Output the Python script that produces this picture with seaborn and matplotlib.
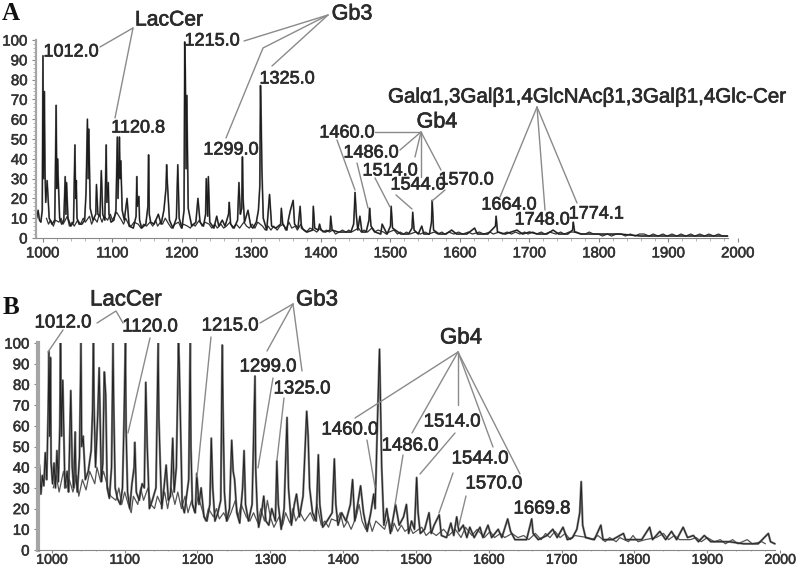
import matplotlib
matplotlib.use("Agg")
import matplotlib.pyplot as plt
import matplotlib.patheffects as pe
import seaborn as sns
from matplotlib.lines import Line2D
from matplotlib.ticker import MultipleLocator

# espectro A (pico e vale alternados)
a_mz = [991, 993, 995, 997, 999, 1000, 1001, 1002, 1003, 1004, 1006, 1009, 1013, 1017, 1019, 1020, 1021, 1024, 1027,
        1030, 1032, 1033, 1034, 1036, 1040, 1044, 1046, 1047, 1048, 1049, 1052, 1056, 1060, 1062, 1064, 1065, 1066, 1068, 1072,
        1076, 1077, 1079, 1082, 1084, 1086, 1089, 1091, 1092, 1094, 1095, 1098, 1102, 1105, 1107, 1108, 1110, 1111, 1112, 1114,
        1117, 1121, 1124, 1130, 1134, 1135, 1136, 1138, 1139, 1142, 1148, 1151, 1152, 1153, 1155, 1160, 1166, 1170, 1174, 1177,
        1178, 1179, 1182, 1187, 1192, 1194, 1196, 1200, 1203, 1204, 1205, 1206, 1207, 1209, 1214, 1220, 1223, 1226, 1231, 1234,
        1235, 1237, 1238, 1240, 1246, 1250, 1253, 1258, 1262, 1267, 1268, 1270, 1275, 1280, 1282, 1284, 1286, 1287, 1288, 1290,
        1295, 1299, 1302, 1307, 1310, 1312, 1313, 1314, 1315, 1317, 1322, 1326, 1329, 1335, 1342, 1343, 1345, 1351, 1353, 1356,
        1360, 1362, 1367, 1370, 1372, 1380, 1388, 1389, 1391, 1396, 1398, 1400, 1406, 1413, 1414, 1416, 1425, 1435, 1443, 1447,
        1448, 1449, 1451, 1453, 1456, 1459, 1465, 1469, 1470, 1472, 1478, 1486, 1488, 1495, 1500, 1501, 1503, 1515, 1526, 1531,
        1532, 1534, 1540, 1545, 1548, 1556, 1559, 1560, 1562, 1570, 1580, 1588, 1595, 1610, 1621, 1625, 1640, 1651, 1652, 1654,
        1665, 1682, 1690, 1700, 1712, 1725, 1734, 1742, 1755, 1762, 1763, 1765, 1775, 1800, 1830, 1860, 1900, 1950, 1985]
a_int = [10, 14, 9, 8, 14, 92, 30, 74, 33, 18, 29, 10, 7, 9, 67, 25, 40, 10, 7,
         9, 31, 12, 28, 10, 6, 8, 47, 20, 29, 10, 7, 7, 9, 23, 60, 30, 55, 15, 9,
         12, 27, 12, 11, 34, 12, 9, 47, 18, 28, 12, 8, 9, 14, 51, 20, 51, 30, 39, 14,
         9, 20, 6, 5, 11, 31, 16, 21, 9, 5, 7, 16, 42, 12, 8, 7, 12, 7, 14, 25,
         37, 28, 9, 5, 10, 37, 10, 5, 14, 99, 80, 35, 72, 15, 6, 8, 20, 8, 6, 12,
         30, 11, 31, 8, 5, 11, 6, 9, 6, 12, 18, 7, 5, 9, 28, 12, 15, 41, 20, 8,
         14, 6, 5, 8, 14, 26, 77, 60, 35, 10, 4, 22, 6, 5, 7, 15, 7, 4, 9, 14,
         19, 7, 5, 16, 5, 3, 4, 16, 5, 4, 7, 4, 3, 4, 11, 4, 3, 3, 3, 7,
         14, 23, 11, 4, 11, 3, 3, 9, 15, 6, 3, 2, 7, 2, 6, 16, 5, 2, 2, 5,
         13, 4, 2, 6, 2, 2, 8, 19, 4, 2, 2, 4, 2, 2, 5, 2, 2, 6, 11, 3,
         2, 4, 2, 3, 2, 2, 4, 2, 2, 4, 8, 3, 2, 2, 2, 1, 1, 1, 1]

# ruido de fundo do espectro A
a_fundo_mz = [1005, 1008, 1011, 1015, 1018, 1023, 1026, 1029, 1035, 1038, 1042, 1045, 1050, 1054, 1058, 1061, 1067, 1070, 1074, 1078,
              1081, 1085, 1088, 1093, 1097, 1100, 1103, 1106, 1113, 1116, 1119, 1123, 1127, 1131, 1137, 1141, 1145, 1149, 1154, 1158,
              1162, 1165, 1169, 1172, 1176, 1181, 1185, 1190, 1195, 1199, 1202, 1208, 1212, 1216, 1219, 1225, 1229, 1233, 1239, 1243,
              1247, 1251, 1256, 1260, 1264, 1269, 1273, 1278, 1283, 1289, 1293, 1297, 1301, 1305, 1309, 1316, 1320, 1324, 1328, 1332,
              1337, 1341, 1346, 1349, 1354, 1358, 1363, 1366, 1371, 1375, 1379, 1384, 1390, 1394, 1399, 1403, 1408, 1412, 1417, 1421,
              1426, 1431, 1436, 1440, 1444, 1454, 1458, 1462, 1467, 1473, 1477, 1482, 1490, 1494, 1498, 1505, 1510, 1514, 1519, 1523,
              1528, 1536, 1543, 1550, 1555, 1563, 1568, 1574, 1578, 1584, 1591, 1598, 1604, 1612, 1618, 1628, 1634, 1643, 1648, 1656,
              1661, 1668, 1674, 1680, 1686, 1693, 1698, 1705, 1710, 1717, 1722, 1729, 1738, 1745, 1750, 1757, 1768, 1773, 1780, 1786,
              1792, 1799, 1805, 1812, 1818, 1825, 1832, 1838, 1845, 1852, 1858, 1865, 1872, 1878, 1885, 1892, 1898, 1905, 1912, 1918,
              1925, 1932, 1938, 1945, 1952, 1958, 1965, 1972, 1978, 1985]
a_fundo_int = [10, 7, 9, 6, 9, 8, 10, 7, 11, 6, 8, 6, 9, 7, 10, 8, 11, 7, 10, 8,
               12, 8, 11, 9, 12, 9, 11, 13, 9, 7, 10, 7, 6, 8, 7, 5, 7, 6, 8, 6,
               9, 6, 8, 7, 10, 7, 5, 7, 8, 5, 7, 6, 5, 7, 6, 9, 6, 8, 7, 5,
               7, 5, 7, 5, 6, 8, 5, 7, 5, 8, 6, 5, 7, 5, 8, 6, 4, 6, 4, 6,
               4, 6, 7, 4, 8, 5, 6, 4, 7, 4, 3, 5, 4, 3, 5, 3, 4, 3, 4, 2,
               3, 4, 3, 4, 3, 5, 3, 4, 3, 5, 3, 4, 3, 2, 3, 4, 2, 3, 2, 3,
               2, 3, 2, 3, 2, 3, 2, 3, 2, 3, 2, 3, 2, 3, 2, 3, 2, 3, 2, 3,
               2, 3, 2, 3, 2, 3, 2, 3, 2, 3, 2, 3, 2, 3, 2, 3, 3, 2, 2, 3,
               2, 2, 1, 2, 1, 2, 2, 1, 2, 1, 2, 2, 1, 2, 1, 2, 1, 2, 1, 2,
               1, 2, 1, 2, 1, 2, 1, 2, 1, 1]

# espectro B
b_mz = [983, 985, 987, 989, 991, 993, 995, 996, 997, 998, 999, 1001, 1003, 1005, 1007, 1009, 1011, 1012, 1013, 1015, 1018,
        1021, 1023, 1025, 1026, 1028, 1030, 1032, 1033, 1035, 1038, 1040, 1041, 1043, 1046, 1050, 1054, 1056, 1057, 1058, 1060,
        1063, 1065, 1068, 1070, 1072, 1074, 1076, 1079, 1082, 1084, 1085, 1087, 1090, 1094, 1097, 1099, 1101, 1102, 1104, 1107,
        1110, 1113, 1114, 1116, 1120, 1124, 1127, 1129, 1131, 1134, 1138, 1143, 1146, 1147, 1149, 1151, 1154, 1157, 1160, 1163,
        1166, 1168, 1171, 1174, 1175, 1177, 1179, 1182, 1185, 1188, 1190, 1191, 1193, 1197, 1199, 1202, 1205, 1209, 1213, 1217,
        1219, 1221, 1224, 1228, 1232, 1234, 1235, 1237, 1240, 1244, 1247, 1249, 1251, 1254, 1258, 1262, 1264, 1266, 1270, 1275,
        1279, 1280, 1282, 1284, 1288, 1291, 1294, 1298, 1302, 1307, 1309, 1311, 1315, 1319, 1323, 1325, 1329, 1333, 1336, 1340,
        1345, 1350, 1352, 1354, 1358, 1363, 1366, 1368, 1372, 1378, 1385, 1388, 1390, 1393, 1398, 1404, 1410, 1413, 1416, 1420,
        1424, 1428, 1433, 1438, 1442, 1444, 1447, 1450, 1451, 1453, 1456, 1460, 1465, 1472, 1477, 1483, 1487, 1490, 1494, 1498,
        1501, 1503, 1506, 1512, 1518, 1521, 1525, 1532, 1535, 1542, 1548, 1552, 1556, 1559, 1565, 1570, 1574, 1580, 1588, 1592,
        1599, 1604, 1613, 1618, 1626, 1630, 1636, 1645, 1652, 1659, 1661, 1668, 1680, 1688, 1694, 1702, 1708, 1715, 1721, 1725,
        1727, 1729, 1733, 1745, 1754, 1757, 1770, 1785, 1788, 1810, 1821, 1825, 1835, 1843, 1851, 1858, 1867, 1873, 1881, 1888,
        1896, 1905, 1930, 1950, 1970, 1984, 1987, 1993]
b_int = [41, 27, 36, 31, 47, 34, 68, 96, 55, 93, 42, 32, 42, 30, 48, 33, 60, 100, 55, 82, 30,
         38, 28, 62, 77, 40, 30, 57, 36, 28, 45, 100, 50, 55, 34, 38, 48, 68, 100, 70, 40,
         65, 88, 33, 42, 86, 75, 30, 25, 40, 100, 70, 30, 25, 22, 30, 60, 100, 58, 28, 20,
         32, 40, 52, 28, 24, 32, 30, 81, 50, 20, 24, 30, 100, 64, 40, 20, 30, 41, 24, 26,
         54, 28, 40, 100, 90, 55, 22, 18, 26, 34, 100, 50, 22, 18, 37, 22, 30, 16, 14, 22,
         54, 30, 14, 18, 24, 99, 70, 28, 14, 20, 53, 38, 34, 18, 13, 30, 48, 22, 14, 22,
         84, 39, 20, 11, 18, 26, 14, 12, 20, 14, 43, 22, 10, 20, 64, 30, 12, 22, 27, 16,
         26, 67, 55, 30, 18, 14, 46, 22, 11, 14, 18, 44, 22, 12, 18, 14, 22, 34, 14, 22,
         31, 18, 9, 18, 27, 20, 60, 97, 78, 40, 12, 20, 8, 22, 12, 16, 22, 8, 14, 10,
         35, 18, 8, 10, 18, 8, 12, 17, 7, 6, 13, 7, 16, 9, 12, 6, 11, 6, 11, 6,
         12, 6, 10, 6, 15, 9, 5, 5, 5, 15, 8, 5, 7, 10, 6, 11, 5, 6, 10, 18,
         33, 12, 6, 5, 12, 5, 5, 8, 5, 5, 11, 5, 9, 5, 9, 5, 11, 6, 7, 4,
         7, 4, 4, 3, 3, 8, 4, 3]

# ruido de fundo do espectro B
b_fundo_mz = [1002, 1006, 1010, 1016, 1020, 1024, 1029, 1034, 1037, 1042, 1047, 1052, 1059, 1062, 1067, 1071, 1077, 1081, 1088, 1092,
              1096, 1100, 1105, 1109, 1112, 1118, 1122, 1126, 1132, 1136, 1141, 1145, 1150, 1155, 1159, 1164, 1169, 1173, 1178, 1183,
              1187, 1192, 1196, 1201, 1206, 1211, 1215, 1222, 1226, 1230, 1236, 1241, 1246, 1252, 1256, 1260, 1267, 1272, 1277, 1283,
              1287, 1292, 1296, 1300, 1305, 1312, 1317, 1321, 1327, 1331, 1335, 1341, 1347, 1355, 1360, 1364, 1370, 1375, 1380, 1384,
              1391, 1396, 1401, 1406, 1411, 1418, 1422, 1426, 1431, 1436, 1440, 1445, 1457, 1462, 1467, 1470, 1475, 1480, 1485, 1492,
              1496, 1508, 1514, 1520, 1528, 1538, 1545, 1554, 1562, 1568, 1577, 1584, 1594, 1602, 1608, 1616, 1622, 1632, 1640, 1648,
              1655, 1664, 1672, 1678, 1684, 1691, 1698, 1705, 1712, 1718, 1736, 1742, 1750, 1760, 1766, 1775, 1780, 1792, 1798, 1805,
              1815, 1830, 1840, 1847, 1855, 1862, 1877, 1885, 1892, 1900, 1910, 1918, 1925, 1935, 1942, 1955, 1962, 1975, 1980]
b_fundo_int = [30, 36, 28, 38, 30, 34, 28, 36, 26, 34, 29, 38, 32, 40, 33, 38, 30, 26, 24, 30,
               22, 28, 22, 18, 26, 22, 30, 24, 30, 22, 20, 26, 22, 28, 20, 30, 22, 28, 20, 26,
               18, 24, 18, 26, 20, 14, 20, 16, 20, 15, 18, 14, 18, 24, 16, 22, 16, 14, 18, 13,
               20, 14, 24, 16, 11, 16, 12, 18, 13, 20, 14, 18, 14, 18, 14, 22, 12, 14, 11, 15,
               14, 18, 11, 14, 10, 16, 22, 14, 10, 14, 9, 14, 10, 16, 9, 13, 9, 12, 9, 11,
               8, 11, 7, 9, 7, 10, 7, 10, 6, 11, 7, 10, 6, 9, 6, 8, 6, 8, 6, 7,
               5, 8, 5, 8, 6, 9, 6, 8, 5, 7, 6, 5, 7, 4, 6, 4, 6, 4, 7, 4,
               5, 6, 8, 5, 7, 5, 5, 6, 4, 6, 4, 5, 3, 5, 3, 5, 3, 4, 3]

x_ticks = [1000, 1100, 1200, 1300, 1400, 1500, 1600, 1700, 1800, 1900, 2000]
y_ticks = [0, 10, 20, 30, 40, 50, 60, 70, 80, 90, 100]

# rotulos: (texto, x px, y px, tamanho)
rotulos_a = [("LacCer", 169, 20, 15.2), ("Gb3", 352, 14, 15.5), ("1012.0", 71, 52, 13), ("1215.0", 212, 41, 13),
             ("1325.0", 287, 79, 13), ("1120.8", 138, 128, 13), ("1299.0", 231, 150, 13), ("1460.0", 347, 133, 13),
             ("1486.0", 371, 153, 13), ("1514.0", 390, 171, 13), ("1544.0", 418, 185, 13), ("1570.0", 466, 180, 13),
             ("1664.0", 509, 205, 13), ("1748.0", 542, 220, 13), ("1774.1", 596, 214, 13), ("Gb4", 437, 122, 15.5),
             ("Galα1,3Galβ1,4GlcNAcβ1,3Galβ1,4Glc-Cer", 586, 97, 14.8)]
rotulos_b = [("LacCer", 126, 300, 16), ("Gb3", 317, 300, 16), ("1012.0", 63, 323, 13.4), ("1120.0", 150, 327, 13.4),
             ("1215.0", 230, 326, 13.4), ("1299.0", 268, 367, 13.4), ("1325.0", 302, 389, 13.4), ("1460.0", 350, 430, 13.4),
             ("1486.0", 410, 446, 13.4), ("1514.0", 452, 422, 13.4), ("1544.0", 480, 459, 13.4), ("1570.0", 494, 484, 13.4),
             ("1669.8", 542, 509, 13.4), ("Gb4", 461, 338, 16)]

# linhas de chamada em pixels
linhas = [[(133, 28), (100, 47)], [(133, 28), (115, 118)],
          [(328, 15), (244, 41)], [(328, 15), (263, 48), (226, 138)], [(328, 15), (272, 66)],
          [(375, 132), (421, 132)], [(421, 132), (400, 150)], [(421, 132), (415, 157)], [(421, 132), (421, 177)], [(421, 132), (441, 170)],
          [(337, 140), (355, 190)], [(357, 163), (368, 208)], [(375, 178), (390, 207)], [(396, 195), (412, 209)], [(445, 190), (432, 201)],
          [(537, 107), (500, 197)], [(537, 107), (545, 210)], [(537, 107), (577, 203)],
          [(97, 323), (116, 311), (123, 323)], [(63, 330), (48, 352)], [(150, 338), (128, 433)], [(211, 337), (197, 477)],
          [(293, 304), (260, 323)], [(293, 304), (267, 351)], [(293, 304), (302, 371)],
          [(273, 378), (258, 468)], [(284, 398), (277, 460)], [(367, 440), (375, 487)],
          [(458, 352), (355, 418)], [(458, 352), (412, 433)], [(403, 455), (395, 505)], [(458, 352), (458, 405)],
          [(458, 352), (493, 447)], [(458, 352), (520, 474)], [(455, 433), (420, 474)], [(453, 473), (439, 513)], [(466, 496), (459, 525)]]

sns.set_style("white")
plt.rcParams["font.family"] = ["Liberation Sans", "DejaVu Sans"]

LARG, ALT = 800, 566
fig = plt.figure(figsize=(8, 5.66), dpi=100)
engrossa = [pe.withStroke(linewidth=0.5, foreground="#2b2b2b")]


def eixo(esq, dir, topo, base):
    return fig.add_axes([esq / LARG, 1 - base / ALT, (dir - esq) / LARG, (base - topo) / ALT])


def arruma(ax, x0, x_fim, larg_spine, folga, tam_x, comp_x):
    ax.set_xlim(x0, 2000)
    ax.set_ylim(0, 100)
    ax.set_xticks(x_ticks)
    ax.set_yticks(y_ticks)
    ax.xaxis.set_minor_locator(MultipleLocator(20))
    ax.yaxis.set_minor_locator(MultipleLocator(2))
    ax.tick_params(axis="y", which="major", labelsize=10.8, labelcolor="#333333", color="#888888", length=3, width=0.8, pad=3)
    ax.tick_params(axis="x", which="major", labelsize=tam_x, labelcolor="#333333", color="#888888", length=comp_x, width=0.8, pad=folga)
    ax.tick_params(axis="both", which="minor", color="#aaaaaa", length=comp_x - 1, width=0.6)
    ax.tick_params(axis="both", left=True, bottom=True, which="both")
    ax.patch.set_alpha(0)
    sns.despine(ax=ax)
    ax.spines["left"].set_color("#a5a5a5")
    ax.spines["left"].set_linewidth(larg_spine)
    ax.spines["bottom"].set_color("#888888")
    ax.spines["bottom"].set_linewidth(0.8)
    ax.spines["bottom"].set_bounds(x0, x_fim)
    ax.set_xlabel("")
    ax.set_ylabel("")
    for t in ax.get_xticklabels() + ax.get_yticklabels():
        t.set_path_effects([pe.withStroke(linewidth=0.4, foreground="#333333")])


ax_a = eixo(36, 738, 40, 238)
sns.lineplot(x=a_mz, y=a_int, ax=ax_a, estimator=None, sort=False, color="#777777", lw=1.3)
sns.lineplot(x=a_fundo_mz, y=a_fundo_int, ax=ax_a, estimator=None, sort=False, color="#333333", lw=0.9)
sns.lineplot(x=a_mz, y=a_int, ax=ax_a, estimator=None, sort=False, color="#1c1c1c", lw=0.8)
arruma(ax_a, 990, 1985, 1.6, 3, 10.8, 3)

ax_b = eixo(38, 780, 343, 550)
sns.lineplot(x=b_mz, y=b_int, ax=ax_b, estimator=None, sort=False, color="#808080", lw=1.6)
sns.lineplot(x=b_fundo_mz, y=b_fundo_int, ax=ax_b, estimator=None, sort=False, color="#555555", lw=0.9)
sns.lineplot(x=b_mz, y=b_int, ax=ax_b, estimator=None, sort=False, color="#222222", lw=0.7)
arruma(ax_b, 981, 1993, 3, 0, 10.2, 2)

for pts in linhas:
    fig.add_artist(Line2D([p[0] / LARG for p in pts], [1 - p[1] / ALT for p in pts], color="#8a8a8a", lw=1.0))

for txt, x, y, tam in rotulos_a + rotulos_b:
    fig.text(x / LARG, 1 - y / ALT, txt, ha="center", va="center", fontsize=tam, color="#2b2b2b", path_effects=engrossa)

fig.text(11 / LARG, 1 - 13 / ALT, "A", ha="center", va="center", fontsize=18, fontweight="bold", family="Liberation Serif", color="#111111")
fig.text(11 / LARG, 1 - 307 / ALT, "B", ha="center", va="center", fontsize=18, fontweight="bold", family="Liberation Serif", color="#111111")

fig.savefig("out.png", dpi=100)
